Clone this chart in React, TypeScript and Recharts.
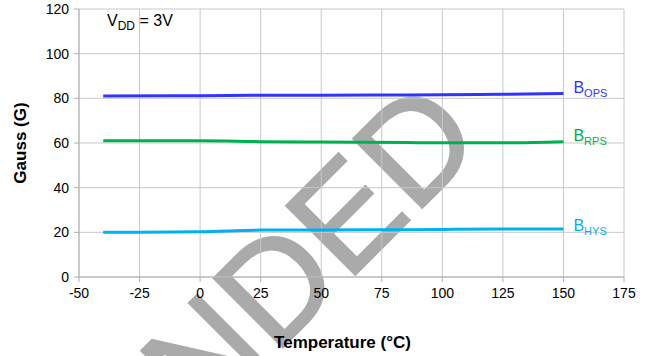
import React from "react"
import { LineChart, Line, XAxis, YAxis, CartesianGrid } from "recharts"

const temps = [-40, 0, 25, 50, 85, 100, 125, 150]
const bops = [81, 81.2, 81.4, 81.4, 81.5, 81.6, 81.8, 82.2]
const brps = [61, 61, 60.6, 60.4, 60.2, 60.1, 60.1, 60.6]
const bhys = [20, 20.3, 21, 21.1, 21.2, 21.3, 21.5, 21.5]

const xTicks = [-50, -25, 0, 25, 50, 75, 100, 125, 150, 175]
const yTicks = [0, 20, 40, 60, 80, 100, 120]

const data = temps.map((t, i) => ({ t, bops: bops[i], brps: brps[i], bhys: bhys[i] }))

const FONT = "'Liberation Sans', Arial, sans-serif"

function endLabel(sub: string, color: string, shift: number) {
  return (props: any) => {
    const { x, y, index } = props
    if (index !== temps.length - 1) return null
    return (
      <text x={x + 10} y={y + shift} fill={color} fontFamily={FONT} fontSize={16}>
        B
        <tspan fontSize={11} dy={4}>{sub}</tspan>
      </text>
    )
  }
}

export default function App() {
  return (
    <div style={{ position: "absolute", left: 0, top: 0, width: 652, height: 356, background: "#fff" }}>
      {/* watermark behind the chart */}
      <svg width={652} height={356} style={{ position: "absolute", left: 0, top: 0 }}>
        <text
          x={202}
          y={428}
          transform="rotate(-45 202 428)"
          fontFamily={FONT}
          fontSize={142}
          fill="#aaaaaa"
          stroke="#aaaaaa"
          strokeWidth={2}
        >
          NDED
        </text>
      </svg>
      <div style={{ position: "absolute", left: 0, top: 0 }}>
        <LineChart width={652} height={356} data={data} margin={{ top: 9, right: 28, bottom: 0, left: 0 }}>
          <CartesianGrid stroke="#c8c8c8" strokeWidth={1} />
          <XAxis
            dataKey="t"
            type="number"
            domain={[-50, 175]}
            ticks={xTicks}
            height={79}
            interval={0}
            tick={{ fill: "#000", fontSize: 14, fontFamily: FONT, dy: 4 }}
            tickSize={5}
            stroke="#b0b0b0"
            label={{ value: "Temperature (°C)", position: "insideBottom", offset: 8, dx: -9, fill: "#000", fontSize: 17, fontWeight: "bold", fontFamily: FONT }}
          />
          <YAxis
            type="number"
            domain={[0, 120]}
            ticks={yTicks}
            width={79}
            interval={0}
            tick={{ fill: "#000", fontSize: 14, fontFamily: FONT, dx: -3 }}
            tickSize={5}
            stroke="#b0b0b0"
            label={{ value: "Gauss (G)", angle: -90, position: "insideLeft", offset: 20, fill: "#000", fontSize: 17, fontWeight: "bold", fontFamily: FONT, style: { textAnchor: "middle" } }}
          />
          <Line type="monotone" dataKey="bops" stroke="#3333ff" strokeWidth={3} dot={false} isAnimationActive={false} label={endLabel("OPS", "#3333ff", 0)} />
          <Line type="monotone" dataKey="brps" stroke="#00b050" strokeWidth={3} dot={false} isAnimationActive={false} label={endLabel("RPS", "#00b050", -1)} />
          <Line type="monotone" dataKey="bhys" stroke="#00b0f0" strokeWidth={3} dot={false} isAnimationActive={false} label={endLabel("HYS", "#00b0f0", 2)} />
        </LineChart>
      </div>
      <svg width={652} height={356} style={{ position: "absolute", left: 0, top: 0, pointerEvents: "none" }}>
        <text x={107} y={26} fontFamily={FONT} fontSize={16} fill="#000">
          V<tspan fontSize={12} dy={4}>DD</tspan>
          <tspan dy={-4}> = 3V</tspan>
        </text>
      </svg>
    </div>
  )
}
